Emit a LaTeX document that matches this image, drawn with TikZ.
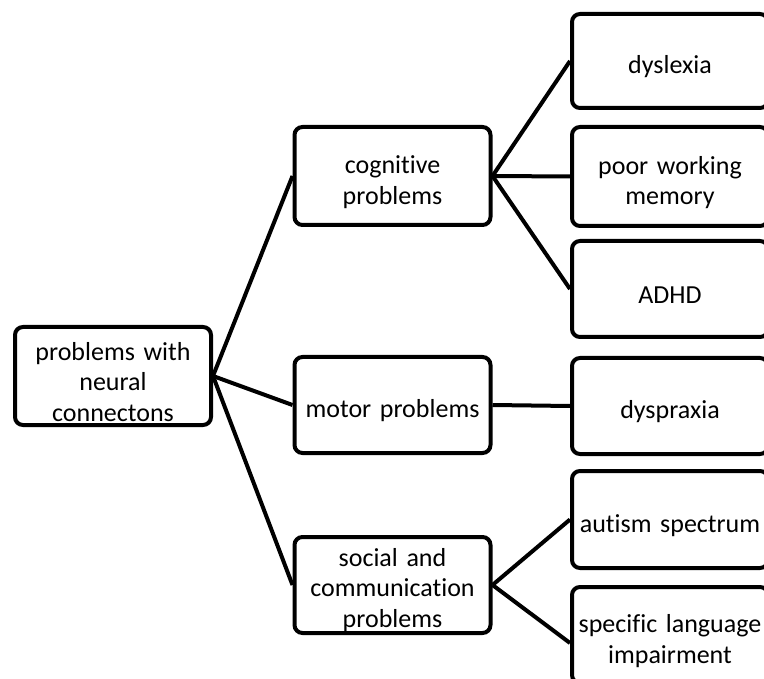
\documentclass[tikz,border=0pt]{standalone}
\usepackage{fontspec}
\setmainfont[Ligatures=NoCommon]{Carlito}
\usepackage{tikz}

\begin{document}
\begin{tikzpicture}[
x=1pt, y=-1pt,
% Style for the boxes
box style/.style={
rectangle,
draw=black,
line width=4pt,
rounded corners=8pt,
minimum width=196pt,
minimum height=96pt,
text width=190pt,
align=center,
inner sep=0pt,
font=\fontsize{26}{30.5}\selectfont,
execute at begin node={\rule{0pt}{30pt}}
},
% Style for the connecting lines
link style/.style={
draw=black,
line width=4pt
}
]
\useasboundingbox (0,0) rectangle (764,679);

% Level 1: the root
\node[box style, minimum height=98pt] (root) at (113,376) {problems with\\ neural\\ connectons};

% Level 2: the three groups
\node[box style, minimum height=98pt] (cog) at (392.5,176) {cognitive\\ problems};
\node[box style] (mot) at (392.5,405) {motor problems};
\node[box style, text height=20pt, text depth=58pt] (soc) at (392.5,585) {social and\\ communication\\ problems};

% Level 3: the single problems
\node[box style, minimum height=94pt] (dys) at (670,61) {dyslexia};
\node[box style, minimum height=99pt] (mem) at (670,176.5) {poor working\\ memory};
\node[box style, minimum height=96pt] (adhd) at (670,289) {ADHD};
\node[box style] (prax) at (670,406) {dyspraxia};
\node[box style, minimum height=97pt] (aut) at (670,519.5) {autism spectrum};
\node[box style] (sli) at (670,635) {specific language\\ impairment};

% Root to the groups
\draw[link style] (root.east) -- (cog.west);
\draw[link style] (root.east) -- (mot.west);
\draw[link style] (root.east) -- (soc.west);

% Cognitive group
\draw[link style] (cog.east) -- (dys.west);
\draw[link style] (cog.east) -- (mem.west);
\draw[link style] (cog.east) -- (adhd.west);

% Motor group
\draw[link style] (mot.east) -- (prax.west);

% Social group
\draw[link style] (soc.east) -- (aut.west);
\draw[link style] (soc.east) -- ([yshift=-8pt]sli.west);

\end{tikzpicture}
\end{document}
